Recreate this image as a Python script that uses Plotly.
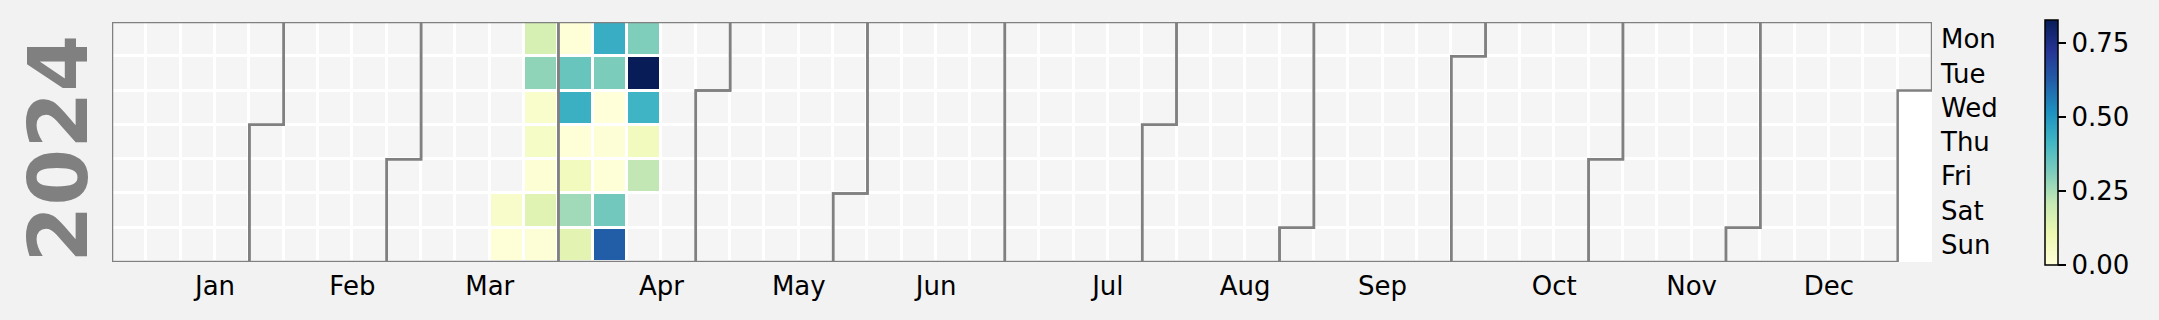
import numpy as np
import pandas as pd
import plotly.graph_objects as go

YEAR = 2024
data_dates = ["2024-03-23", "2024-03-24",
              "2024-03-25", "2024-03-26", "2024-03-27", "2024-03-28", "2024-03-29", "2024-03-30", "2024-03-31",
              "2024-04-01", "2024-04-02", "2024-04-03", "2024-04-04", "2024-04-05", "2024-04-06", "2024-04-07",
              "2024-04-08", "2024-04-09", "2024-04-10", "2024-04-11", "2024-04-12", "2024-04-13", "2024-04-14",
              "2024-04-15", "2024-04-16", "2024-04-17", "2024-04-18", "2024-04-19"]
data_values = [0.040, 0.006,
               0.166, 0.287, 0.035, 0.050, 0.012, 0.140, 0.008,
               0.004, 0.348, 0.430, 0.006, 0.072, 0.263, 0.130,
               0.440, 0.315, 0.000, 0.008, 0.006, 0.332, 0.620,
               0.310, 0.827, 0.420, 0.072, 0.214]
month_labels = ["Jan", "Feb", "Mar", "Apr", "May", "Jun", "Jul", "Aug", "Sep", "Oct", "Nov", "Dec"]
day_labels = ["Mon", "Tue", "Wed", "Thu", "Fri", "Sat", "Sun"]
cbar_ticks = [0.0, 0.25, 0.5, 0.75]

YLGNBU = ["#ffffd9", "#edf8b1", "#c7e9b4", "#7fcdbb", "#41b6c4",
          "#1d91c0", "#225ea8", "#253494", "#081d58"]
colorscale = [[i / 8, c] for i, c in enumerate(YLGNBU)]

# calendar geometry
days = pd.date_range(f"{YEAR}-01-01", f"{YEAR}-12-31", freq="D")
offset = days[0].weekday()
def col_of(d):
    return (d.dayofyear - 1 + offset) // 7
ncols = col_of(days[-1]) + 1

bg = np.full((7, ncols), np.nan)
z = np.full((7, ncols), np.nan)
for d in days:
    bg[d.weekday(), col_of(d)] = 1.0
for ds, v in zip(data_dates, data_values):
    d = pd.Timestamp(ds)
    z[d.weekday(), col_of(d)] = v

xc = np.arange(ncols) + 0.5
yc = np.arange(7) + 0.5

fig = go.Figure()
fig.add_trace(go.Heatmap(z=bg, x=xc, y=yc, colorscale=[[0, "#f5f5f5"], [1, "#f5f5f5"]],
                         showscale=False, xgap=3, ygap=3, hoverinfo="skip"))
vmax = max(data_values)
fig.add_trace(go.Heatmap(z=z, x=xc, y=yc, colorscale=colorscale, zmin=0, zmax=vmax,
                         xgap=3, ygap=3,
                         colorbar=dict(
                             x=(2045 - 112) / 1820, xanchor="left", xref="paper", xpad=0,
                             y=(262 - 142.5) / 239.7, yanchor="middle", ypad=0,
                             len=245, lenmode="pixels", thickness=13, thicknessmode="pixels",
                             outlinewidth=1.5, outlinecolor="black",
                             tickvals=cbar_ticks, ticktext=[f"{t:.2f}" for t in cbar_ticks],
                             ticks="outside", ticklen=8, tickwidth=1.5, tickcolor="black",
                             tickfont=dict(family="DejaVu Sans", size=26, color="black"),
                         )))

# month outlines
lx, ly = [], []
for m in range(1, 13):
    first = pd.Timestamp(YEAR, m, 1)
    last = first + pd.offsets.MonthEnd(0)
    c1, r1 = col_of(first), first.weekday()
    c2, r2 = col_of(last), last.weekday()
    pts = [(c1 + 1, 0), (c2 + 1, 0), (c2 + 1, r2 + 1), (c2, r2 + 1), (c2, 7),
           (c1, 7), (c1, r1), (c1 + 1, r1), (c1 + 1, 0)]
    for px, py in pts:
        lx.append(px); ly.append(py)
    lx.append(None); ly.append(None)
fig.add_trace(go.Scatter(x=lx, y=ly, mode="lines", line=dict(color="#808080", width=2.5),
                         hoverinfo="skip", showlegend=False, cliponaxis=False))

month_ticks = [pd.Timestamp(YEAR, m, 15).isocalendar()[1] for m in range(1, 13)]

fig.update_layout(
    width=2159, height=320,
    margin=dict(l=112, r=2159 - 1932, t=22, b=320 - 262, pad=0),
    paper_bgcolor="#f2f2f2", plot_bgcolor="white",
    showlegend=False,
    font=dict(family="DejaVu Sans", size=26, color="black"),
    xaxis=dict(range=[0, ncols], showgrid=False, zeroline=False, showline=False,
               tickvals=month_ticks, ticktext=month_labels, ticks="", ticklabelstandoff=6,
               tickfont=dict(family="DejaVu Sans", size=26, color="black"), fixedrange=True),
    yaxis=dict(range=[7, 0], showgrid=False, zeroline=False, showline=False, side="right",
               tickvals=list(yc), ticktext=day_labels, ticks="", ticklabelstandoff=8,
               tickfont=dict(family="DejaVu Sans", size=26, color="black"), fixedrange=True),
    annotations=[dict(text=f"<b>{YEAR}</b>", textangle=-90, xref="paper", yref="paper",
                      x=(59 - 112) / 1820, y=(262 - 149) / 239.7, xanchor="center", yanchor="middle",
                      showarrow=False,
                      font=dict(family="DejaVu Sans", size=82, color="#808080"))],
)

fig.write_html("out.html")
